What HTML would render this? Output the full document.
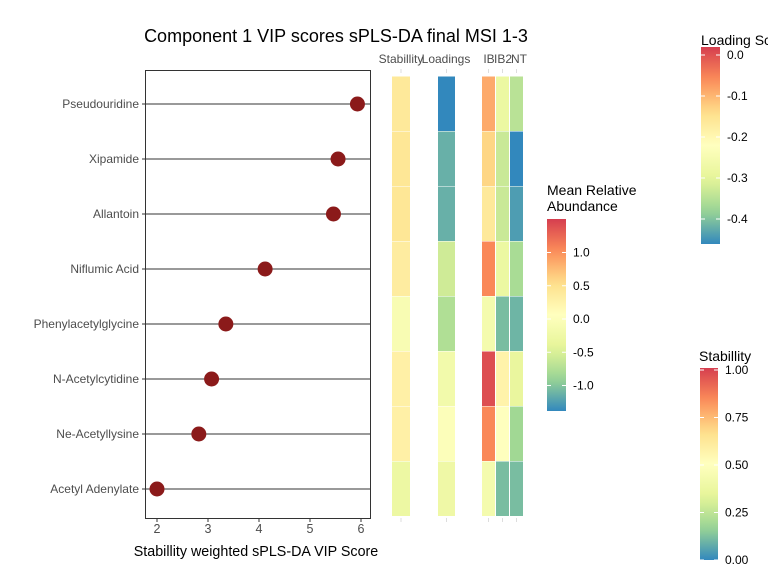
<!DOCTYPE html>
<html><head><meta charset="utf-8"><style>
body{margin:0;background:#fff;font-family:"Liberation Sans",sans-serif}
svg text{font-family:"Liberation Sans",sans-serif}
</style></head><body>
<svg id="c" width="768" height="576" xmlns="http://www.w3.org/2000/svg"></svg>
<script>
const metabolites=["Pseudouridine","Xipamide","Allantoin","Niflumic Acid","Phenylacetylglycine","N-Acetylcytidine","Ne-Acetyllysine","Acetyl Adenylate"];
const vipScores=[5.93,5.55,5.46,4.12,3.35,3.07,2.82,2.0];
const stability=[0.62,0.63,0.63,0.6,0.45,0.58,0.58,0.38];
const loadings=[-0.46,-0.42,-0.42,-0.33,-0.36,-0.27,-0.24,-0.28];
const abundIB=[0.85,0.6,0.4,1.05,-0.15,1.4,1.05,-0.15];
const abundIB2=[-0.3,-0.6,-0.6,-0.3,-1.05,0.25,0.05,-1.05];
const abundNT=[-0.7,-1.38,-1.25,-0.8,-1.1,-0.35,-0.85,-1.05];
const xTicks=[2,3,4,5,6];
const abTicks=[1.0,0.5,0.0,-0.5,-1.0];
const ldTicks=[0.0,-0.1,-0.2,-0.3,-0.4];
const stTicks=[1.0,0.75,0.5,0.25,0.0];

const S=document.getElementById('c');const NS="http://www.w3.org/2000/svg";
function mk(t,a,txt){const e=document.createElementNS(NS,t);for(const k in a)e.setAttribute(k,a[k]);if(txt!==undefined)e.textContent=txt;S.appendChild(e);return e;}
const stops=["#3288bd","#99d594","#e6f598","#ffffbf","#fee08b","#fc8d59","#d53e4f"];
function hx(h){return [1,3,5].map(i=>parseInt(h.substr(i,2),16));}
function spec(t){t=Math.max(0,Math.min(1,t));const p=t*6,i=Math.min(5,Math.floor(p)),f=p-i;const a=hx(stops[i]),b=hx(stops[i+1]);return "rgb("+a.map((v,j)=>Math.round(v+(b[j]-v)*f)).join(",")+")";}
const abMin=-1.38,abMax=1.5,ldMin=-0.46,ldMax=0.0;
const x=v=>157+(v-2)*51;
const rowY=i=>104+i*55;

let e=mk('text',{x:336,y:42,'font-size':18,'text-anchor':'middle',fill:'#000'},"Component 1 VIP scores sPLS-DA final MSI 1-3");

e=mk('rect',{x:145.5,y:70.5,width:225,height:448,fill:'none',stroke:'#333'});

metabolites.forEach((m,i)=>{const y=rowY(i);
 e=mk('line',{x1:145,x2:370,y1:y,y2:y,stroke:'#333','stroke-width':1});
 
 e=mk('text',{x:139,y:y+4,'font-size':12,'text-anchor':'end',fill:'#4d4d4d'},m);
 
 e=mk('line',{x1:142,x2:145,y1:y,y2:y,stroke:'#333'});
 
 e=mk('circle',{cx:x(vipScores[i]),cy:y,r:7.5,fill:'#8b1a1a'});
 
});
xTicks.forEach(t=>{e=mk('line',{x1:x(t),x2:x(t),y1:518,y2:522,stroke:'#333'});
 
 e=mk('text',{x:x(t),y:533,'font-size':12.5,'text-anchor':'middle',fill:'#4d4d4d'},t);
 });
e=mk('text',{x:256,y:556,'font-size':14.3,'text-anchor':'middle',fill:'#000'},"Stabillity weighted sPLS-DA VIP Score");


const cols=[{n:"Stability",x:392,w:18,d:stability,f:v=>spec(v)},{n:"Loadings",x:438,w:17,d:loadings,f:v=>spec((v-ldMin)/(ldMax-ldMin))},
{n:"IB",x:482,w:13,d:abundIB,f:v=>spec((v-abMin)/(abMax-abMin))},{n:"IB2",x:496,w:13,d:abundIB2,f:v=>spec((v-abMin)/(abMax-abMin))},{n:"NT",x:510,w:13,d:abundNT,f:v=>spec((v-abMin)/(abMax-abMin))}];
cols.forEach(c=>{c.d.forEach((v,i)=>{e=mk('rect',{x:c.x,y:rowY(i)-27.5,width:c.w,height:54.5,fill:c.f(v)});
 });
 e=mk('line',{x1:c.x+c.w/2,x2:c.x+c.w/2,y1:518,y2:522,stroke:'#ddd'});
 
 e=mk('line',{x1:c.x+c.w/2,x2:c.x+c.w/2,y1:69,y2:73,stroke:'#ddd'});
 });
[["Stabillity",401],["Loadings",446],["IB",489],["IB2",503],["NT",519]].forEach(([t,xx])=>{
 e=mk('text',{x:xx,y:63,'font-size':12,'text-anchor':'middle',fill:'#4d4d4d'},t);
 });

function legend(name,title,tx,ty,bx,by,bw,bh,ticks,tval,labels){
 const gid='g'+name;const d=mk('defs',{});const g=document.createElementNS(NS,'linearGradient');
 g.setAttribute('id',gid);g.setAttribute('x1','0');g.setAttribute('y1','1');g.setAttribute('x2','0');g.setAttribute('y2','0');
 for(let k=0;k<=20;k++){const s=document.createElementNS(NS,'stop');s.setAttribute('offset',k/20);s.setAttribute('stop-color',spec(k/20));g.appendChild(s);}
 d.appendChild(g);
 title.forEach((t,i)=>{e=mk('text',{x:tx,y:ty+i*16,'font-size':14,fill:'#000'},t);
  });
 e=mk('rect',{x:bx,y:by,width:bw,height:bh,fill:'url(#'+gid+')'});
 
 ticks.forEach((t,i)=>{const y=tval(t);
  e=mk('line',{x1:bx,x2:bx+4,y1:y,y2:y,stroke:'#fff'});
  e=mk('line',{x1:bx+bw-4,x2:bx+bw,y1:y,y2:y,stroke:'#fff'});
  e=mk('text',{x:bx+bw+7,y:y+4,'font-size':12,fill:'#000'},labels[i]);
  });
}
legend('abundance',["Mean Relative","Abundance"],547,195,547,219,19,192,abTicks,v=>319-v*66.5,abTicks.map(v=>v.toFixed(1)));
legend('loading',["Loading Scores"],701,45,701,47,19,197,ldTicks,v=>55-v*410,ldTicks.map(v=>v.toFixed(1).replace("-0.0","0.0")));
legend('stability',["Stabillity"],699,361,700,368,18,192,stTicks,v=>560-v*190,stTicks.map(v=>v.toFixed(2)));
</script>
</body></html>
